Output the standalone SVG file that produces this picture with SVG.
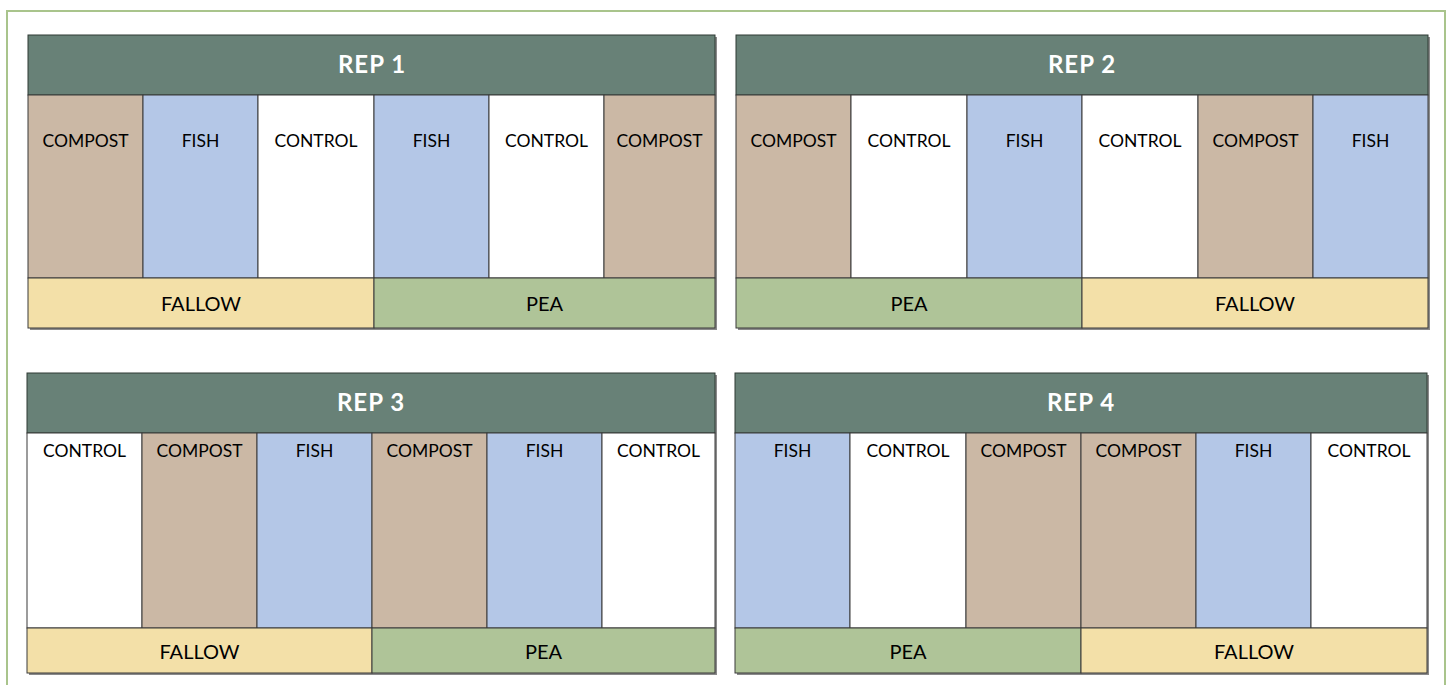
<svg xmlns="http://www.w3.org/2000/svg" width="1448" height="685" viewBox="0 0 1448 685">
<style>
.hdr{fill:#688177;stroke:#2f3a35;stroke-width:1}
.cmp{fill:#cbb8a5;stroke:#3a3a3a;stroke-width:1}
.fsh{fill:#b4c7e7;stroke:#3a3a3a;stroke-width:1}
.ctl{fill:#ffffff;stroke:#3a3a3a;stroke-width:1}
.fal{fill:#f3e0a8;stroke:#3a3a3a;stroke-width:1}
.pea{fill:#afc498;stroke:#3a3a3a;stroke-width:1}
.shd{fill:#8a8a8a}
.ht{font-family:Lato,"Open Sans",sans-serif;font-weight:bold;font-size:24px;letter-spacing:1px;fill:#ffffff;text-anchor:middle}
.ct{font-family:Lato,"Open Sans",sans-serif;font-size:17.5px;fill:#000;text-anchor:middle}
.bt{font-family:Lato,"Open Sans",sans-serif;font-size:20px;fill:#000;text-anchor:middle}
</style>
<g id="frame" fill="none" stroke="#a9c48c" stroke-width="2">
<path d="M7 685 V11 H1445 V685"/>
</g>
<g id="rep1">
<rect class="shd" x="30" y="37" width="687" height="293"/>
<rect class="hdr" x="28" y="35" width="687" height="60"/>
<text class="ht" x="372" y="73">REP 1</text>
<rect class="cmp" x="28" y="95" width="115" height="183"/>
<rect class="fsh" x="143" y="95" width="115" height="183"/>
<rect class="ctl" x="258" y="95" width="116" height="183"/>
<rect class="fsh" x="374" y="95" width="115" height="183"/>
<rect class="ctl" x="489" y="95" width="115" height="183"/>
<rect class="cmp" x="604" y="95" width="111" height="183"/>
<text class="ct" x="85.5" y="147">COMPOST</text>
<text class="ct" x="200.5" y="147">FISH</text>
<text class="ct" x="316" y="147">CONTROL</text>
<text class="ct" x="431.5" y="147">FISH</text>
<text class="ct" x="546.5" y="147">CONTROL</text>
<text class="ct" x="659.5" y="147">COMPOST</text>
<rect class="fal" x="28" y="278" width="346" height="50"/>
<rect class="pea" x="374" y="278" width="341" height="50"/>
<text class="bt" x="201" y="311">FALLOW</text>
<text class="bt" x="544.5" y="311">PEA</text>
</g>
<g id="rep2">
<rect class="shd" x="738" y="37" width="692" height="293"/>
<rect class="hdr" x="736" y="35" width="692" height="60"/>
<text class="ht" x="1082" y="73">REP 2</text>
<rect class="cmp" x="736" y="95" width="115" height="183"/>
<rect class="ctl" x="851" y="95" width="116" height="183"/>
<rect class="fsh" x="967" y="95" width="115" height="183"/>
<rect class="ctl" x="1082" y="95" width="116" height="183"/>
<rect class="cmp" x="1198" y="95" width="115" height="183"/>
<rect class="fsh" x="1313" y="95" width="115" height="183"/>
<text class="ct" x="793.5" y="147">COMPOST</text>
<text class="ct" x="909" y="147">CONTROL</text>
<text class="ct" x="1024.5" y="147">FISH</text>
<text class="ct" x="1140" y="147">CONTROL</text>
<text class="ct" x="1255.5" y="147">COMPOST</text>
<text class="ct" x="1370.5" y="147">FISH</text>
<rect class="pea" x="736" y="278" width="346" height="50"/>
<rect class="fal" x="1082" y="278" width="346" height="50"/>
<text class="bt" x="909" y="311">PEA</text>
<text class="bt" x="1255" y="311">FALLOW</text>
</g>
<g id="rep3">
<rect class="shd" x="29" y="375" width="688" height="300"/>
<rect class="hdr" x="27" y="373" width="688" height="60"/>
<text class="ht" x="371" y="411">REP 3</text>
<rect class="ctl" x="27" y="433" width="115" height="195"/>
<rect class="cmp" x="142" y="433" width="115" height="195"/>
<rect class="fsh" x="257" y="433" width="115" height="195"/>
<rect class="cmp" x="372" y="433" width="115" height="195"/>
<rect class="fsh" x="487" y="433" width="115" height="195"/>
<rect class="ctl" x="602" y="433" width="113" height="195"/>
<text class="ct" x="84.5" y="457">CONTROL</text>
<text class="ct" x="199.5" y="457">COMPOST</text>
<text class="ct" x="314.5" y="457">FISH</text>
<text class="ct" x="429.5" y="457">COMPOST</text>
<text class="ct" x="544.5" y="457">FISH</text>
<text class="ct" x="658.5" y="457">CONTROL</text>
<rect class="fal" x="27" y="628" width="345" height="45"/>
<rect class="pea" x="372" y="628" width="343" height="45"/>
<text class="bt" x="199.5" y="659">FALLOW</text>
<text class="bt" x="543.5" y="659">PEA</text>
</g>
<g id="rep4">
<rect class="shd" x="737" y="375" width="692" height="300"/>
<rect class="hdr" x="735" y="373" width="692" height="60"/>
<text class="ht" x="1081" y="411">REP 4</text>
<rect class="fsh" x="735" y="433" width="115" height="195"/>
<rect class="ctl" x="850" y="433" width="116" height="195"/>
<rect class="cmp" x="966" y="433" width="115" height="195"/>
<rect class="cmp" x="1081" y="433" width="115" height="195"/>
<rect class="fsh" x="1196" y="433" width="115" height="195"/>
<rect class="ctl" x="1311" y="433" width="116" height="195"/>
<text class="ct" x="792.5" y="457">FISH</text>
<text class="ct" x="908" y="457">CONTROL</text>
<text class="ct" x="1023.5" y="457">COMPOST</text>
<text class="ct" x="1138.5" y="457">COMPOST</text>
<text class="ct" x="1253.5" y="457">FISH</text>
<text class="ct" x="1369" y="457">CONTROL</text>
<rect class="pea" x="735" y="628" width="346" height="45"/>
<rect class="fal" x="1081" y="628" width="346" height="45"/>
<text class="bt" x="908" y="659">PEA</text>
<text class="bt" x="1254" y="659">FALLOW</text>
</g>
</svg>
